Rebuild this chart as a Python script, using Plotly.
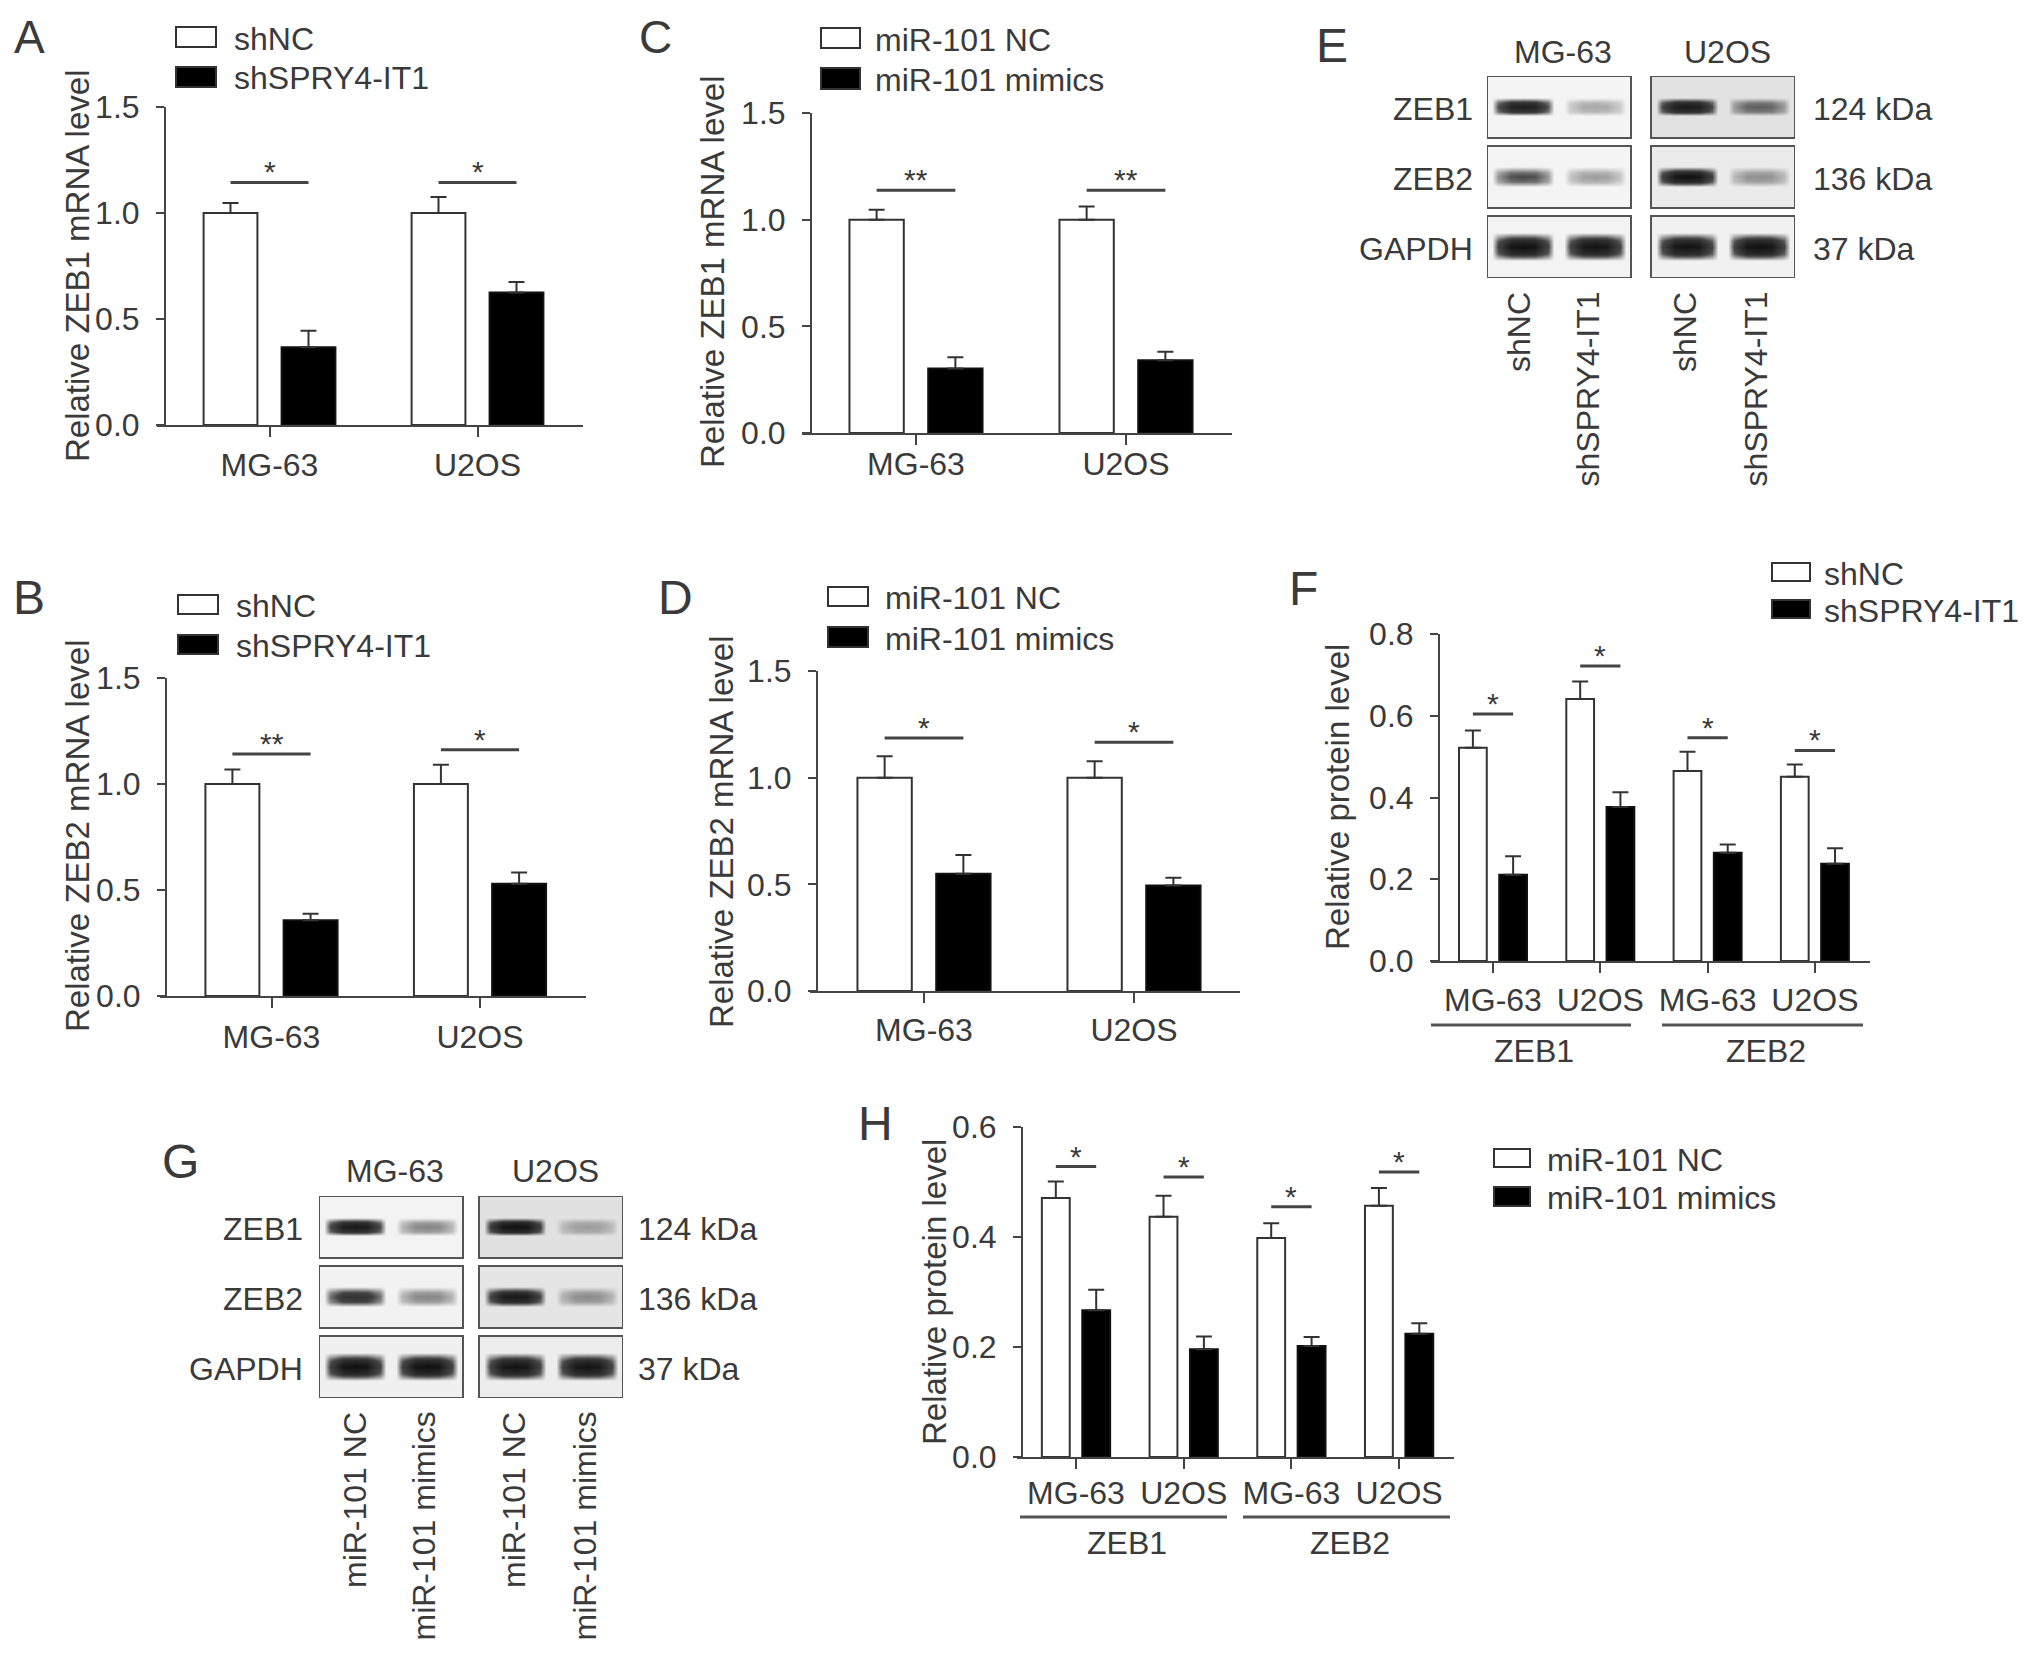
import plotly.graph_objects as go

# page geometry: the browser adds an 8 px body margin around the figure
PAGE_W, PAGE_H, BODY = 2032, 1658, 8
W, H = PAGE_W - 2 * BODY, PAGE_H - 2 * BODY
FONT = "Liberation Sans, Arial, sans-serif"
TXT = "#3a3a3a"
LINE = "#444444"

# ---------------- data ----------------
cells2 = ["MG-63", "U2OS"]
cells4 = ["MG-63", "U2OS", "MG-63", "U2OS"]
genes = ["ZEB1", "ZEB2"]
sh_names = ["shNC", "shSPRY4-IT1"]
mi_names = ["miR-101 NC", "miR-101 mimics"]

# A: ZEB1 mRNA, shRNA
A_ctrl = [1.00, 1.00]
A_ctrl_err = [0.047, 0.075]
A_trt = [0.367, 0.625]
A_trt_err = [0.077, 0.049]
A_sig = ["*", "*"]
A_sig_y = [1.144, 1.144]

# B: ZEB2 mRNA, shRNA
B_ctrl = [1.00, 1.00]
B_ctrl_err = [0.068, 0.091]
B_trt = [0.357, 0.530]
B_trt_err = [0.031, 0.053]
B_sig = ["**", "*"]
B_sig_y = [1.142, 1.162]

# C: ZEB1 mRNA, miR-101
C_ctrl = [1.00, 1.00]
C_ctrl_err = [0.047, 0.062]
C_trt = [0.302, 0.341]
C_trt_err = [0.053, 0.040]
C_sig = ["**", "**"]
C_sig_y = [1.138, 1.138]

# D: ZEB2 mRNA, miR-101
D_ctrl = [1.00, 1.00]
D_ctrl_err = [0.100, 0.077]
D_trt = [0.550, 0.494]
D_trt_err = [0.088, 0.037]
D_sig = ["*", "*"]
D_sig_y = [1.186, 1.166]

# F: protein, shRNA
F_ctrl = [0.522, 0.641, 0.465, 0.451]
F_ctrl_err = [0.042, 0.043, 0.047, 0.030]
F_trt = [0.211, 0.377, 0.265, 0.238]
F_trt_err = [0.045, 0.036, 0.020, 0.038]
F_sig = ["*", "*", "*", "*"]
F_sig_y = [0.604, 0.722, 0.546, 0.515]

# H: protein, miR-101
H_ctrl = [0.471, 0.437, 0.398, 0.457]
H_ctrl_err = [0.030, 0.038, 0.027, 0.032]
H_trt = [0.267, 0.196, 0.202, 0.224]
H_trt_err = [0.037, 0.023, 0.016, 0.019]
H_sig = ["*", "*", "*", "*"]
H_sig_y = [0.528, 0.509, 0.455, 0.518]

# Western blot band intensities (0..1), lanes: MG ctrl, MG trt, U2OS ctrl, U2OS trt
blot_rows = ["ZEB1", "ZEB2", "GAPDH"]
blot_kda = ["124 kDa", "136 kDa", "37 kDa"]
E_ZEB1 = [0.85, 0.22, 0.88, 0.42]
E_ZEB2 = [0.50, 0.25, 0.97, 0.28]
E_GAPDH = [0.97, 0.95, 0.95, 0.97]
G_ZEB1 = [0.90, 0.32, 0.97, 0.22]
G_ZEB2 = [0.68, 0.32, 0.90, 0.28]
G_GAPDH = [0.97, 0.97, 0.95, 0.94]

# ---------------- helpers (page pixel -> paper) ----------------
def px(x):
    return (x - BODY) / W

def py(y):
    return 1 - (y - BODY) / H

BARGAP = 0.25
BARGROUPGAP = 0.31
OFF = (1 - BARGAP) / 4  # centre offset of each bar within group

fig = go.Figure()
layout = dict(
    width=W, height=H, margin=dict(l=0, r=0, t=0, b=0, autoexpand=False),
    template="none",
    paper_bgcolor="white", plot_bgcolor="rgba(0,0,0,0)",
    barmode="group", bargap=BARGAP, bargroupgap=BARGROUPGAP,
    showlegend=False, font=dict(family=FONT, color=TXT, size=32),
)
shapes = []
annots = []

def text(x, y, s, size=32, xanchor="center", yanchor="middle", angle=0):
    annots.append(dict(x=px(x), y=py(y), xref="paper", yref="paper", text=s,
                       showarrow=False, xanchor=xanchor, yanchor=yanchor,
                       textangle=angle, font=dict(size=size, color=TXT, family=FONT)))

def legend(x0, x1, rows, labels, tx):
    fills = ["white", "black"]
    for (y0, y1), lab, f in zip(rows, labels, fills):
        shapes.append(dict(type="rect", xref="paper", yref="paper",
                           x0=px(x0), x1=px(x1), y0=py(y1), y1=py(y0),
                           fillcolor=f, line=dict(color="#333", width=2)))
        text(tx, (y0 + y1) / 2 + 1.5, lab, xanchor="left")

def bar_panel(n, cats, ctrl, ctrl_err, trt, trt_err, sig, sig_y, geo, ytitle, names):
    xa, ya = ("x%d" % n, "y%d" % n)
    xs = list(range(len(cats)))
    fig.add_trace(go.Bar(
        x=xs, y=ctrl, name=names[0], xaxis=xa, yaxis=ya,
        marker=dict(color="white", line=dict(color="#333", width=2)),
        error_y=dict(type="data", array=ctrl_err, arrayminus=[0] * len(xs),
                     symmetric=False, color="#333", thickness=2, width=8)))
    fig.add_trace(go.Bar(
        x=xs, y=trt, name=names[1], xaxis=xa, yaxis=ya,
        marker=dict(color="black", line=dict(color="#111", width=2)),
        error_y=dict(type="data", array=trt_err, arrayminus=[0] * len(xs),
                     symmetric=False, color="#333", thickness=2, width=8)))
    xl0, xl1 = geo["xline"]
    t0, unit = geo["tick0"], geo["unit"]
    rng = [(xl0 - t0) / unit, (len(cats) - 1) + (xl1 - (t0 + unit * (len(cats) - 1))) / unit]
    ytop, ybot = geo["y"]
    key = "" if n == 1 else str(n)
    layout["xaxis" + key] = dict(
        domain=[px(xl0), px(xl1)], range=rng, anchor=ya, automargin=False,
        tickvals=xs, ticktext=cats, ticks="outside", ticklen=10, tickwidth=2,
        tickcolor=LINE, showline=True, linecolor=LINE, linewidth=2,
        showgrid=False, zeroline=False, fixedrange=True,
        ticklabelstandoff=geo["xstand"],
        tickfont=dict(size=32, color=TXT, family=FONT))
    layout["yaxis" + key] = dict(
        domain=[py(ybot), py(ytop)], range=geo["yrange"], dtick=geo["dtick"],
        tickformat=".1f", anchor="free", position=px(geo["yaxis"]), automargin=False,
        ticks="outside", ticklen=8, tickwidth=2, tickcolor=LINE,
        showline=True, linecolor=LINE, linewidth=2, showgrid=False,
        zeroline=False, fixedrange=True, ticklabelstandoff=10,
        tickfont=dict(size=32, color=TXT, family=FONT))
    for i, (s, yv) in enumerate(zip(sig, sig_y)):
        shapes.append(dict(type="line", xref=xa, yref=ya, x0=i - OFF, x1=i + OFF,
                           y0=yv, y1=yv, line=dict(color=LINE, width=3)))
        annots.append(dict(x=i, y=yv, xref=xa, yref=ya, text=s, showarrow=False,
                           yanchor="bottom", yshift=-8,
                           font=dict(size=30, color=TXT, family=FONT)))
    text(geo["title_xy"][0], geo["title_xy"][1], ytitle, size=33, angle=-90)

geoA = dict(xline=[157, 583], tick0=269.5, unit=208, y=[107, 425], yaxis=165,
            yrange=[0, 1.5], dtick=0.5, xstand=1, title_xy=(77, 266))
geoB = dict(xline=[160, 586], tick0=271.5, unit=208.5, y=[678, 996], yaxis=166,
            yrange=[0, 1.5], dtick=0.5, xstand=2, title_xy=(77, 836))
geoC = dict(xline=[802, 1232], tick0=916, unit=210, y=[113, 433], yaxis=811,
            yrange=[0, 1.5], dtick=0.5, xstand=-8, title_xy=(712, 272))
geoD = dict(xline=[810, 1240], tick0=924, unit=210, y=[671, 991], yaxis=817,
            yrange=[0, 1.5], dtick=0.5, xstand=0, title_xy=(721, 832))
geoF = dict(xline=[1431, 1870], tick0=1493, unit=107.3, y=[634, 961], yaxis=1439,
            yrange=[0, 0.8], dtick=0.2, xstand=0, title_xy=(1338, 797))
geoH = dict(xline=[1017, 1454], tick0=1076, unit=107.7, y=[1127, 1457], yaxis=1022,
            yrange=[0, 0.6], dtick=0.2, xstand=-3, title_xy=(934, 1292))

bar_panel(1, cells2, A_ctrl, A_ctrl_err, A_trt, A_trt_err, A_sig, A_sig_y, geoA,
          "Relative ZEB1 mRNA level", sh_names)
bar_panel(2, cells2, B_ctrl, B_ctrl_err, B_trt, B_trt_err, B_sig, B_sig_y, geoB,
          "Relative ZEB2 mRNA level", sh_names)
bar_panel(3, cells2, C_ctrl, C_ctrl_err, C_trt, C_trt_err, C_sig, C_sig_y, geoC,
          "Relative ZEB1 mRNA level", mi_names)
bar_panel(4, cells2, D_ctrl, D_ctrl_err, D_trt, D_trt_err, D_sig, D_sig_y, geoD,
          "Relative ZEB2 mRNA level", mi_names)
bar_panel(5, cells4, F_ctrl, F_ctrl_err, F_trt, F_trt_err, F_sig, F_sig_y, geoF,
          "Relative protein level", sh_names)
bar_panel(6, cells4, H_ctrl, H_ctrl_err, H_trt, H_trt_err, H_sig, H_sig_y, geoH,
          "Relative protein level", mi_names)

# legends
legend(176, 216, [(27, 47), (67, 87)], sh_names, 232)
legend(178, 218, [(595, 614), (635, 654)], sh_names, 234)
legend(821, 860, [(28, 48), (68, 89)], mi_names, 873)
legend(828, 868, [(587, 606), (627, 647)], mi_names, 883)
legend(1772, 1810, [(563, 581), (600, 618)], sh_names, 1822)
legend(1494, 1530, [(1149, 1167), (1187, 1206)], mi_names, 1545)

# gene brackets under F and H
for (x0, x1), lab, yb in [((1431, 1631), genes[0], 1025), ((1662, 1863), genes[1], 1025),
                          ((1020, 1227), genes[0], 1517), ((1243, 1450), genes[1], 1517)]:
    shapes.append(dict(type="line", xref="paper", yref="paper", x0=px(x0), x1=px(x1),
                       y0=py(yb), y1=py(yb), line=dict(color="#555", width=3)))
    text((x0 + x1) / 2 + 3, yb + 26, lab)

# ---------------- western blots ----------------
BOX_W, ROW_H, ROW_P = 144, 62, 70
LANE_KX = [-31, -25, -12, 0, 12, 25, 31]          # band profile (style)
LANE_WX = [0.0, 0.55, 0.95, 1.0, 0.95, 0.55, 0.0]
ROW_KY = [-1.0, -0.45, 0.0, 0.45, 1.0]
ROW_WY = [0.0, 0.8, 1.0, 0.8, 0.0]
ROW_HALF = [9, 10, 14]

def blot_panel(n, x0, y0, gap, bands, bgs, cols, kda_x, lab_x, head_y, bottom_top, bottom_x):
    xa, ya = "x%d" % n, "y%d" % n
    tot_w = 2 * BOX_W + gap
    tot_h = 2 * ROW_P + ROW_H
    layout["xaxis%d" % n] = dict(domain=[px(x0), px(x0 + tot_w)], range=[0, tot_w],
                                 visible=False, fixedrange=True, anchor=ya, automargin=False)
    layout["yaxis%d" % n] = dict(domain=[py(y0 + tot_h), py(y0)], range=[tot_h, 0],
                                 visible=False, fixedrange=True, anchor=xa, automargin=False)
    for r in range(3):
        for b in range(2):
            shapes.append(dict(type="rect", xref=xa, yref=ya, layer="below",
                               x0=b * (BOX_W + gap), x1=b * (BOX_W + gap) + BOX_W,
                               y0=r * ROW_P, y1=r * ROW_P + ROW_H,
                               fillcolor=bgs[r][b], line=dict(width=0)))
            shapes.append(dict(type="rect", xref=xa, yref=ya, layer="above",
                               x0=b * (BOX_W + gap), x1=b * (BOX_W + gap) + BOX_W,
                               y0=r * ROW_P, y1=r * ROW_P + ROW_H,
                               line=dict(color="#555", width=2)))
    xs, owner_x = [], []
    for l in range(4):
        b, k = divmod(l, 2)
        cx = b * (BOX_W + gap) + 36 + 72 * k
        for dx, w in zip(LANE_KX, LANE_WX):
            xs.append(cx + dx)
            owner_x.append((l, w))
    ys, owner_y = [], []
    for r in range(3):
        cy = r * ROW_P + ROW_H / 2
        for dy, w in zip(ROW_KY, ROW_WY):
            ys.append(cy + dy * ROW_HALF[r])
            owner_y.append((r, w))
    z = [[bands[r][l] * wx * wy for (l, wx) in owner_x] for (r, wy) in owner_y]
    fig.add_trace(go.Heatmap(
        x=xs, y=ys, z=z, xaxis=xa, yaxis=ya, zmin=0, zmax=1, zsmooth="best",
        colorscale=[[0, "rgba(12,12,12,0)"], [0.5, "rgba(12,12,12,0.75)"],
                    [1, "rgba(12,12,12,1)"]],
        showscale=False, hoverinfo="skip"))
    for r in range(3):
        text(lab_x, y0 + r * ROW_P + ROW_H / 2 + 2, blot_rows[r], xanchor="right")
        text(kda_x, y0 + r * ROW_P + ROW_H / 2 + 2, blot_kda[r], xanchor="left")
    text(x0 + BOX_W / 2 + 4, head_y, cells2[0])
    text(x0 + BOX_W + gap + BOX_W / 2 + 4, head_y, cells2[1])
    for xc, lab in zip(bottom_x, cols):
        text(xc, bottom_top, lab, angle=-90, yanchor="top")

bgE = [["#f4f4f4", "#e2e2e2"], ["#f4f4f4", "#ebebeb"], ["#f3f3f3", "#f1f1f1"]]
bgG = [["#f3f3f3", "#e1e1e1"], ["#f2f2f2", "#e5e5e5"], ["#f0f0f0", "#ededed"]]
blot_panel(7, 1487, 76, 20, [E_ZEB1, E_ZEB2, E_GAPDH], bgE,
           [sh_names[0], sh_names[1], sh_names[0], sh_names[1]],
           1811, 1475, 52, 290, [1519, 1587, 1685, 1755])
blot_panel(8, 319, 1196, 16, [G_ZEB1, G_ZEB2, G_GAPDH], bgG,
           [mi_names[0], mi_names[1], mi_names[0], mi_names[1]],
           636, 305, 1171, 1410, [355, 423, 514, 584])

# panel letters (top-row letters anchored to the top edge so they stay inside)
text(29, 9, "A", size=46, yanchor="top")
text(655, 9, "C", size=46, yanchor="top")
for lab, (x, y) in zip("BDEFGH", [(29, 597), (675, 597), (1332, 45), (1303, 589),
                                  (180, 1161), (875, 1123)]):
    text(x, y, lab, size=48)

layout["shapes"] = shapes
layout["annotations"] = annots
fig.update_layout(**layout)
fig.write_html("out.html")
